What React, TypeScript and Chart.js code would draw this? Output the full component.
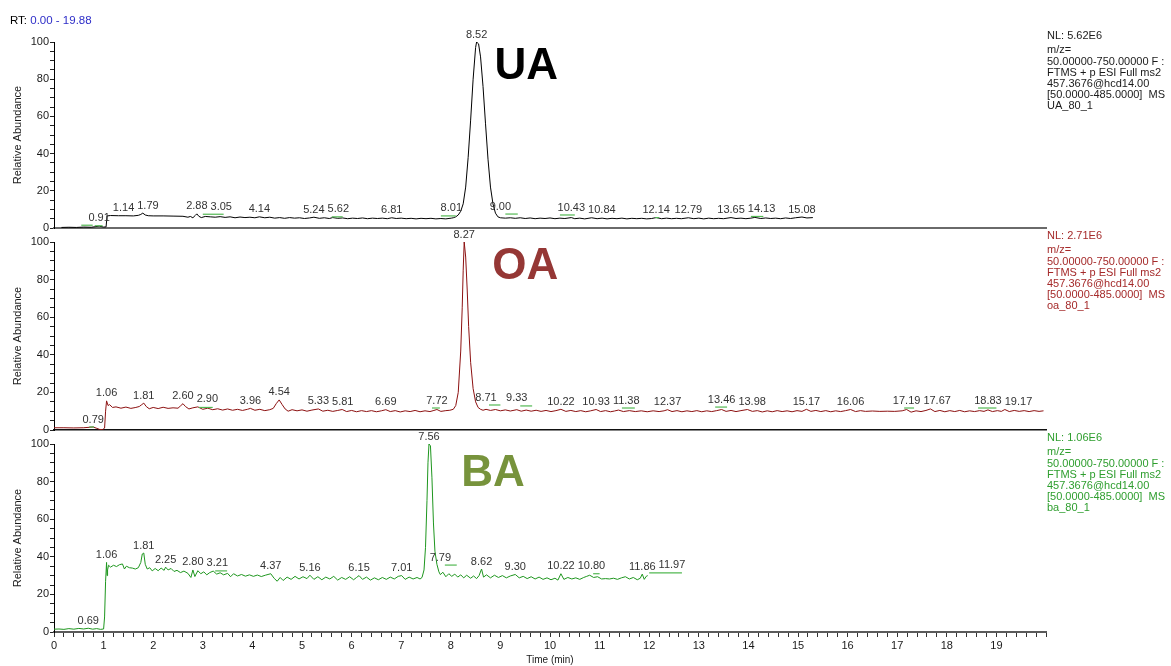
import React, { useEffect, useRef } from "react";
import { Chart, registerables } from "chart.js";

Chart.register(...registerables);

const W = 1171;
const H = 666;
const FONT = '"Liberation Sans", Arial, Helvetica, sans-serif';

// ---------- UA (black trace) ----------
const uaTimes = [
  0.15, 0.3, 0.45, 0.6, 0.75, 0.91, 1.0, 1.05, 1.07, 1.14, 1.3, 1.45, 1.6, 1.7, 1.75, 1.79, 1.84, 1.9, 2.0, 2.2,
  2.4, 2.6, 2.7, 2.75, 2.8, 2.85, 2.88, 2.92, 2.97, 3.05, 3.15, 3.25, 3.35, 3.45, 3.55, 3.65, 3.75, 3.85, 3.95, 4.05,
  4.14, 4.25, 4.35, 4.45, 4.55, 4.65, 4.75, 4.85, 4.95, 5.05, 5.15, 5.24, 5.35, 5.45, 5.55, 5.62, 5.72, 5.82, 5.92, 6.02,
  6.12, 6.22, 6.32, 6.42, 6.52, 6.62, 6.72, 6.81, 6.9, 7.0, 7.1, 7.2, 7.3, 7.4, 7.5, 7.6, 7.7, 7.8, 7.9, 8.01,
  8.05, 8.1, 8.15, 8.2, 8.25, 8.3, 8.35, 8.4, 8.45, 8.5, 8.52, 8.56, 8.6, 8.65, 8.7, 8.75, 8.8, 8.85, 8.9, 8.95,
  9.0, 9.1, 9.2, 9.3, 9.4, 9.5, 9.6, 9.7, 9.8, 9.9, 10.0, 10.1, 10.2, 10.3, 10.43, 10.5, 10.6, 10.7, 10.84, 10.95,
  11.05, 11.15, 11.25, 11.35, 11.45, 11.55, 11.65, 11.75, 11.85, 11.95, 12.05, 12.14, 12.25, 12.35, 12.45, 12.55, 12.65, 12.79, 12.9, 13.0,
  13.1, 13.2, 13.3, 13.4, 13.5, 13.65, 13.75, 13.85, 13.95, 14.05, 14.13, 14.25, 14.35, 14.45, 14.55, 14.65, 14.75, 14.85, 14.95, 15.08,
  15.18, 15.3,
];
const uaValues = [
  0.3, 0.4, 0.3, 0.5, 0.4, 1.0, 0.5, 0.6, 6.5, 6.7, 6.6, 6.6, 6.5, 6.8, 7.3, 8.0, 7.0, 6.6, 6.5, 6.5,
  6.4, 6.3, 5.8, 6.2, 5.5, 6.8, 7.6, 6.3, 5.6, 6.2, 6.0, 5.8, 6.1, 5.7, 6.0, 5.5, 5.9, 5.6, 5.8, 5.5,
  6.0, 5.5, 5.8, 5.3, 5.6, 5.2, 5.6, 5.3, 5.5, 5.1, 5.4, 5.8, 5.2, 5.5, 5.1, 5.6, 5.2, 5.4, 5.0, 5.3,
  5.1, 5.4, 5.0, 5.3, 5.1, 5.3, 5.0, 5.5, 5.1, 5.3, 5.0, 5.2, 4.9, 5.2, 5.0, 5.2, 4.9, 5.1, 4.9, 5.3,
  5.5, 6.0, 7.0, 9.0, 13, 22, 38, 58, 80, 97, 100, 99, 92, 76, 56, 37, 22, 13, 8.0, 6.0,
  5.5, 5.3, 5.5, 5.2, 5.5, 5.1, 5.4, 5.0, 5.3, 5.1, 5.4, 5.0, 5.3, 5.1, 5.6, 5.0, 5.3, 4.9, 5.5, 5.0,
  5.3, 4.9, 5.2, 5.0, 5.3, 4.9, 5.2, 5.0, 5.2, 4.9, 5.1, 5.6, 5.0, 5.3, 5.0, 5.2, 5.0, 5.5, 5.0, 5.3,
  4.9, 5.3, 5.0, 5.2, 5.0, 5.6, 5.1, 5.3, 5.0, 5.3, 5.7, 5.1, 5.4, 5.1, 5.3, 5.0, 5.4, 5.1, 5.5, 5.9,
  5.4, 5.6,
];
const uaPeakLabels = ["0.91", "1.14", "1.79", "2.88", "3.05", "4.14", "5.24", "5.62", "6.81", "8.01", "8.52", "9.00", "10.43", "10.84", "12.14", "12.79", "13.65", "14.13", "15.08"];
const uaMarkStart = [0.55, 0.82, 3.0, 5.6, 7.8, 9.1, 10.2, 12.12, 14.05];
const uaMarkEnd = [0.78, 0.98, 3.42, 5.82, 8.1, 9.35, 10.5, 12.2, 14.3];
const uaMarkLevel = [1.5, 1.2, 7.4, 6.0, 6.5, 7.5, 7.0, 5.6, 6.2];
const uaInfo = ["NL: 5.62E6", "m/z=", "50.00000-750.00000 F :", "FTMS + p ESI Full ms2", "457.3676@hcd14.00", "[50.0000-485.0000]  MS", "UA_80_1"];

// ---------- OA (dark red trace) ----------
const oaTimes = [
  0.0, 0.2, 0.4, 0.6, 0.79, 0.85, 0.92, 0.98, 1.02, 1.04, 1.06, 1.09, 1.12, 1.18, 1.25, 1.35, 1.45, 1.55, 1.65, 1.72,
  1.77, 1.81, 1.86, 1.92, 2.0, 2.1, 2.2, 2.3, 2.4, 2.5, 2.55, 2.6, 2.65, 2.72, 2.8, 2.9, 3.0, 3.1, 3.2, 3.3,
  3.4, 3.5, 3.6, 3.7, 3.8, 3.9, 3.96, 4.05, 4.15, 4.25, 4.35, 4.42, 4.48, 4.54, 4.6, 4.66, 4.72, 4.8, 4.9, 5.0,
  5.1, 5.2, 5.33, 5.42, 5.52, 5.62, 5.72, 5.81, 5.9, 6.0, 6.1, 6.2, 6.3, 6.4, 6.5, 6.6, 6.69, 6.78, 6.88, 6.98,
  7.08, 7.18, 7.28, 7.38, 7.48, 7.58, 7.66, 7.72, 7.8, 7.9, 7.98, 8.05, 8.1, 8.15, 8.2, 8.23, 8.25, 8.27, 8.3, 8.33,
  8.36, 8.4, 8.45, 8.5, 8.55, 8.6, 8.65, 8.71, 8.8, 8.9, 9.0, 9.1, 9.2, 9.33, 9.42, 9.52, 9.62, 9.72, 9.82, 9.92,
  10.02, 10.12, 10.22, 10.32, 10.42, 10.52, 10.62, 10.72, 10.82, 10.93, 11.02, 11.12, 11.22, 11.3, 11.38, 11.48, 11.6, 11.72, 11.84, 11.96,
  12.08, 12.2, 12.3, 12.37, 12.46, 12.56, 12.66, 12.76, 12.86, 12.96, 13.06, 13.16, 13.26, 13.36, 13.46, 13.55, 13.65, 13.75, 13.85, 13.98,
  14.08, 14.18, 14.28, 14.38, 14.48, 14.58, 14.68, 14.78, 14.88, 14.98, 15.08, 15.17, 15.26, 15.36, 15.46, 15.56, 15.66, 15.76, 15.86, 15.96,
  16.06, 16.16, 16.26, 16.36, 16.5, 16.65, 16.8, 16.95, 17.1, 17.19, 17.28, 17.38, 17.48, 17.58, 17.67, 17.76, 17.86, 17.96, 18.06, 18.16,
  18.26, 18.36, 18.46, 18.56, 18.66, 18.75, 18.83, 18.92, 19.02, 19.1, 19.17, 19.26, 19.36, 19.46, 19.56, 19.66, 19.76, 19.86, 19.95,
];
const oaValues = [
  1.2, 1.2, 1.1, 1.2, 1.6, 1.0, 0.3, 0.2, 1.0, 10, 15.5, 13, 13.5, 12, 12.3, 11.6, 12.2, 11.5, 12.0, 12.5,
  13.5, 14.3, 12.5, 11.3, 12.0, 11.4, 12.1, 11.5, 11.8, 11.6, 12.8, 14.0, 12.5, 11.2, 11.8, 12.3, 11.0, 11.6, 10.8, 11.3,
  10.6, 11.2, 10.5, 11.0, 10.4, 11.0, 11.5, 10.5, 11.0, 10.3, 10.8, 11.5, 14.0, 16.0, 13.5, 11.2, 10.0, 10.8, 10.2, 10.7,
  10.0, 10.6, 11.2, 10.0, 10.5, 9.9, 10.4, 10.9, 9.8, 10.4, 9.7, 10.3, 9.8, 10.3, 9.7, 10.2, 10.8, 9.8, 10.3, 9.6,
  10.2, 9.8, 10.4, 9.7, 10.2, 9.8, 10.4, 10.9, 9.9, 10.3, 10.5, 11, 13, 20, 42, 65, 85, 100, 92, 75,
  55, 36, 22, 15, 12, 11, 10.5, 11.0, 10.4, 10.9, 10.2, 10.7, 10.1, 10.8, 10.0, 10.6, 10.0, 10.5, 9.9, 10.4,
  9.8, 10.3, 11.0, 9.9, 10.4, 9.8, 10.3, 9.7, 10.2, 10.9, 9.8, 10.3, 9.7, 10.1, 10.6, 9.8, 10.3, 9.8, 10.2, 9.7,
  10.2, 9.8, 10.2, 10.8, 9.8, 10.3, 9.7, 10.2, 9.8, 10.3, 9.7, 10.2, 9.8, 10.3, 10.9, 9.9, 10.4, 9.8, 10.3, 10.9,
  9.9, 10.3, 9.6, 10.2, 9.7, 10.3, 9.8, 10.2, 9.7, 10.3, 9.9, 11.0, 9.9, 10.4, 9.8, 10.3, 9.7, 10.2, 9.8, 10.3,
  10.9, 9.8, 10.3, 9.9, 10.1, 9.9, 10.0, 9.9, 10.2, 10.9, 9.5, 10.2, 9.8, 10.4, 11.2, 9.8, 10.4, 9.7, 10.3, 9.8,
  10.4, 9.7, 10.2, 9.8, 10.3, 9.9, 10.7, 9.8, 10.3, 9.9, 10.9, 9.8, 10.4, 9.9, 10.3, 9.8, 10.3, 9.9, 10.2,
];
const oaPeakLabels = ["0.79", "1.06", "1.81", "2.60", "2.90", "3.96", "4.54", "5.33", "5.81", "6.69", "7.72", "8.27", "8.71", "9.33", "10.22", "10.93", "11.38", "12.37", "13.46", "13.98", "15.17", "16.06", "17.19", "17.67", "18.83", "19.17"];
const oaMarkStart = [0.71, 2.92, 7.62, 8.77, 9.4, 11.45, 13.33, 17.14, 18.63];
const oaMarkEnd = [0.81, 3.2, 7.78, 9.0, 9.64, 11.71, 13.57, 17.34, 19.0];
const oaMarkLevel = [1.6, 12.0, 11.7, 13.3, 12.8, 11.7, 12.2, 11.7, 11.7];
const oaInfo = ["NL: 2.71E6", "m/z=", "50.00000-750.00000 F :", "FTMS + p ESI Full ms2", "457.3676@hcd14.00", "[50.0000-485.0000]  MS", "oa_80_1"];

// ---------- BA (green trace) ----------
const baTimes = [
  0.0, 0.1, 0.2, 0.3, 0.4, 0.5, 0.6, 0.69, 0.78, 0.86, 0.94, 1.0, 1.02, 1.04, 1.06, 1.07, 1.08, 1.1, 1.14, 1.2,
  1.26, 1.32, 1.38, 1.42, 1.46, 1.52, 1.58, 1.64, 1.7, 1.75, 1.78, 1.81, 1.84, 1.88, 1.93, 1.98, 2.04, 2.1, 2.16, 2.22,
  2.25, 2.3, 2.36, 2.42, 2.48, 2.55, 2.62, 2.7, 2.76, 2.8, 2.84, 2.9, 2.96, 3.02, 3.08, 3.14, 3.21, 3.28, 3.35, 3.42,
  3.5, 3.56, 3.62, 3.7, 3.78, 3.86, 3.94, 4.02, 4.1, 4.18, 4.26, 4.37, 4.44, 4.5, 4.56, 4.62, 4.7, 4.78, 4.86, 4.94,
  5.02, 5.1, 5.16, 5.24, 5.32, 5.4, 5.48, 5.56, 5.64, 5.72, 5.8, 5.88, 5.96, 6.04, 6.1, 6.15, 6.22, 6.3, 6.38, 6.46,
  6.54, 6.62, 6.7, 6.78, 6.86, 6.94, 7.01, 7.08, 7.16, 7.24, 7.32, 7.38, 7.42, 7.46, 7.49, 7.52, 7.54, 7.56, 7.59, 7.62,
  7.65, 7.68, 7.72, 7.76, 7.79, 7.84, 7.9, 7.96, 8.02, 8.08, 8.14, 8.2, 8.26, 8.32, 8.4, 8.46, 8.52, 8.57, 8.62, 8.66,
  8.72, 8.8, 8.88, 8.96, 9.04, 9.12, 9.2, 9.3, 9.38, 9.46, 9.54, 9.62, 9.7, 9.78, 9.86, 9.94, 10.02, 10.1, 10.16, 10.22,
  10.28, 10.36, 10.44, 10.52, 10.6, 10.68, 10.74, 10.8, 10.88, 10.96, 11.04, 11.12, 11.2, 11.28, 11.36, 11.44, 11.52, 11.6, 11.68, 11.76,
  11.82, 11.86, 11.9, 11.94, 11.97,
];
const baValues = [
  1.5, 1.6, 1.4, 1.8, 1.5, 1.9, 1.6, 2.0, 1.5, 1.8, 1.4, 1.6, 8, 27, 37, 30, 33, 35.5, 34.5, 35.5,
  34.8, 35.8, 36.2, 33.5, 35.0, 34.2, 34.0, 33.5, 34.2, 37, 41.5, 42, 36, 33.5, 34.2, 32.5, 33.8, 32.6, 34.0, 32.8,
  34.5, 33.0, 33.8, 32.2, 32.8, 31.6, 32.4, 31.2, 29.0, 33.0, 29.5, 32.6, 31.0, 32.0, 30.4, 31.6, 32.4, 30.8, 31.5, 30.4,
  31.2, 29.4, 31.0, 29.8, 30.6, 29.7, 30.4, 29.6, 30.3, 29.5, 30.2, 31.0, 28.5, 27.0, 29.0, 27.4, 29.2, 28.0, 29.6, 28.2,
  29.4, 28.4, 30.2, 28.0, 29.4, 27.8, 29.2, 28.2, 29.6, 27.6, 29.0, 28.0, 29.4, 27.8, 29.0, 30.0, 28.0, 29.2, 27.6, 28.8,
  27.8, 29.0, 28.0, 29.2, 28.2, 29.6, 30.0, 28.0, 29.2, 28.2, 29.0, 28.2, 29, 33, 45, 70, 90, 100, 99, 82,
  58, 43, 36, 32, 30.5, 31.8, 29.4, 31.0, 29.6, 30.8, 29.2, 30.4, 28.8, 30.2, 28.6, 29.8, 28.4, 30.0, 33.5, 29.2,
  30.4, 28.8, 30.2, 29.0, 30.0, 28.8, 29.8, 30.6, 28.8, 29.6, 28.4, 29.4, 28.2, 29.2, 28.0, 28.8, 27.8, 28.6, 27.6, 31.0,
  28.0, 29.0, 28.2, 28.8, 28.0, 29.0, 29.6, 30.2, 29.0, 29.4, 28.2, 28.4, 28.2, 28.6, 28.0, 28.8, 29.4, 28.2, 29.0, 27.8,
  28.6, 30.8, 28.0, 29.6, 30.0,
];
const baPeakLabels = ["0.69", "1.06", "1.81", "2.25", "2.80", "3.21", "4.37", "5.16", "6.15", "7.01", "7.56", "7.79", "8.62", "9.30", "10.22", "10.80", "11.86", "11.97"];
const baMarkStart = [3.25, 7.88, 10.87, 12.0];
const baMarkEnd = [3.49, 8.12, 11.0, 12.66];
const baMarkLevel = [32.5, 35.6, 31.0, 31.5];
const baInfo = ["NL: 1.06E6", "m/z=", "50.00000-750.00000 F :", "FTMS + p ESI Full ms2", "457.3676@hcd14.00", "[50.0000-485.0000]  MS", "ba_80_1"];

const xTickStep = 0.2;
const yTickStep = 5;
const yLabelEvery = 20;
const infoOffsets = [-6, 8, 19.5, 30.5, 41.5, 52.5, 63.5];

type Panel = {
  name: string;
  times: number[];
  values: number[];
  labels: string[];
  markStart: number[];
  markEnd: number[];
  markLevel: number[];
  info: string[];
  lineColor: string;
  infoColor: string;
  nameColor: string;
  nameX: number;
  nameY: number;
  top: number;
  bottom: number;
  axisColor: string;
  axisWidth: number;
  last: boolean;
  header: boolean;
};

const panels: Panel[] = [
  {
    name: "UA", times: uaTimes, values: uaValues, labels: uaPeakLabels,
    markStart: uaMarkStart, markEnd: uaMarkEnd, markLevel: uaMarkLevel, info: uaInfo,
    lineColor: "#000000", infoColor: "#1a1a1a", nameColor: "#000000", nameX: 9.52, nameY: 86.6,
    top: 42, bottom: 228, axisColor: "#6a6a6a", axisWidth: 2, last: false, header: true,
  },
  {
    name: "OA", times: oaTimes, values: oaValues, labels: oaPeakLabels,
    markStart: oaMarkStart, markEnd: oaMarkEnd, markLevel: oaMarkLevel, info: oaInfo,
    lineColor: "#8c1010", infoColor: "#a52a2a", nameColor: "#953735", nameX: 9.5, nameY: 86.7,
    top: 242, bottom: 430, axisColor: "#111111", axisWidth: 1.5, last: false, header: false,
  },
  {
    name: "BA", times: baTimes, values: baValues, labels: baPeakLabels,
    markStart: baMarkStart, markEnd: baMarkEnd, markLevel: baMarkLevel, info: baInfo,
    lineColor: "#1e961e", infoColor: "#2e9e2e", nameColor: "#77933c", nameX: 8.85, nameY: 84,
    top: 444, bottom: 632, axisColor: "#5a5a5a", axisWidth: 2, last: true, header: false,
  },
];

function makeAnnot(p: Panel) {
  return {
    id: "chromAnnot" + p.name,
    afterDatasetsDraw(chart: any) {
      const ctx: CanvasRenderingContext2D = chart.ctx;
      const xs = chart.scales.x;
      const ys = chart.scales.y;
      ctx.save();
      // baseline markers
      ctx.strokeStyle = "#52b852";
      ctx.lineWidth = 1.2;
      p.markStart.forEach((s, i) => {
        const y = ys.getPixelForValue(p.markLevel[i]);
        ctx.beginPath();
        ctx.moveTo(xs.getPixelForValue(s), y);
        ctx.lineTo(xs.getPixelForValue(p.markEnd[i]), y);
        ctx.stroke();
      });
      // peak labels (placed above the apex, pushed right when overlapping)
      ctx.font = `11px ${FONT}`;
      ctx.fillStyle = "#333333";
      ctx.textAlign = "center";
      ctx.textBaseline = "bottom";
      const boxes: { x: number; y: number; w: number }[] = [];
      p.labels.forEach((lab) => {
        const t = parseFloat(lab);
        let v = -Infinity;
        p.times.forEach((tt, i) => {
          if (Math.abs(tt - t) <= 0.06) v = Math.max(v, p.values[i]);
        });
        p.markStart.forEach((s, i) => {
          if (t >= s - 0.12 && t <= p.markEnd[i] + 0.05) v = Math.max(v, p.markLevel[i]);
        });
        if (!isFinite(v)) {
          let best = 0;
          p.times.forEach((tt, i) => {
            if (Math.abs(tt - t) < Math.abs(p.times[best] - t)) best = i;
          });
          v = p.values[best];
        }
        const w = ctx.measureText(lab).width;
        let x = xs.getPixelForValue(t);
        const y = ys.getPixelForValue(v) - 2;
        boxes.forEach((b) => {
          const yOverlap = Math.abs(b.y - y) < 11;
          if (yOverlap && x - w / 2 < b.x + b.w / 2 + 3) {
            x = b.x + b.w / 2 + 3 + w / 2;
          }
        });
        boxes.push({ x, y, w });
        ctx.fillText(lab, x, y);
      });
      // big compound name
      ctx.font = `bold 44px ${FONT}`;
      ctx.fillStyle = p.nameColor;
      ctx.textBaseline = "middle";
      ctx.fillText(p.name, xs.getPixelForValue(p.nameX), ys.getPixelForValue(p.nameY));
      // info block at right
      ctx.font = `11px ${FONT}`;
      ctx.fillStyle = p.infoColor;
      ctx.textAlign = "left";
      ctx.textBaseline = "middle";
      const top = chart.chartArea.top;
      const right = chart.chartArea.right;
      p.info.forEach((line, i) => ctx.fillText(line, right + 1, top + infoOffsets[i]));
      // header
      if (p.header) {
        ctx.font = `11.5px ${FONT}`;
        ctx.fillStyle = "#000000";
        ctx.fillText("RT:", 10, 21);
        const w = ctx.measureText("RT: ").width;
        ctx.fillStyle = "#2e2ec8";
        ctx.fillText("0.00 - 19.88", 10 + w, 21);
      }
      ctx.restore();
    },
  };
}

function PanelChart({ p }: { p: Panel }) {
  const ref = useRef<HTMLCanvasElement | null>(null);
  useEffect(() => {
    if (!ref.current) return;
    const chart = new Chart(ref.current, {
      type: "line",
      data: {
        datasets: [
          {
            data: p.times.map((t, i) => ({ x: t, y: p.values[i] })),
            borderColor: p.lineColor,
            borderWidth: 1,
            pointRadius: 0,
            tension: 0,
            fill: false,
          },
        ],
      },
      options: {
        responsive: false,
        animation: false,
        devicePixelRatio: 1,
        events: [],
        layout: {
          padding: { top: p.top, bottom: p.last ? 0 : H - p.bottom, left: 0, right: W - 1046 },
        },
        plugins: { legend: { display: false }, tooltip: { enabled: false } },
        scales: {
          x: {
            type: "linear",
            min: 0,
            max: 20,
            afterFit: (s: any) => {
              s.height = p.last ? H - p.bottom : 0;
            },
            ticks: {
              display: p.last,
              stepSize: xTickStep,
              autoSkip: false,
              maxRotation: 0,
              padding: 2,
              color: "#1a1a1a",
              font: { size: 11, family: FONT },
              callback: (v: any) => {
                const n = Number(v);
                const r = Math.round(n);
                return Math.abs(n - r) < 1e-6 && r < 20 ? String(r) : "";
              },
            },
            grid: { display: true, drawOnChartArea: false, drawTicks: p.last, tickLength: 5, color: "#333333" },
            border: { display: true, color: p.axisColor, width: p.axisWidth },
            title: {
              display: p.last,
              text: "Time (min)",
              color: "#1a1a1a",
              font: { size: 10, family: FONT },
              padding: { top: 0, bottom: 0 },
            },
          },
          y: {
            type: "linear",
            min: 0,
            max: 100,
            afterFit: (s: any) => {
              s.width = 54;
            },
            ticks: {
              stepSize: yTickStep,
              autoSkip: false,
              padding: 1,
              color: "#1a1a1a",
              font: { size: 11, family: FONT },
              callback: (v: any) => (Number(v) % yLabelEvery === 0 ? String(v) : ""),
            },
            grid: { display: true, drawOnChartArea: false, drawTicks: true, tickLength: 4, color: "#222222" },
            border: { display: true, color: "#000000", width: 1 },
            title: {
              display: true,
              text: "Relative Abundance",
              color: "#1a1a1a",
              font: { size: 11, family: FONT },
              padding: { top: 11, bottom: 0 },
            },
          },
        },
      },
      plugins: [makeAnnot(p)],
    } as any);
    return () => chart.destroy();
  }, [p]);
  return (
    <canvas
      ref={ref}
      width={W}
      height={H}
      style={{ position: "absolute", left: 0, top: 0, width: W, height: H }}
    />
  );
}

export default function App() {
  return (
    <div style={{ position: "absolute", left: 0, top: 0, width: W, height: H, background: "#ffffff" }}>
      {panels.map((p) => (
        <PanelChart key={p.name} p={p} />
      ))}
    </div>
  );
}
